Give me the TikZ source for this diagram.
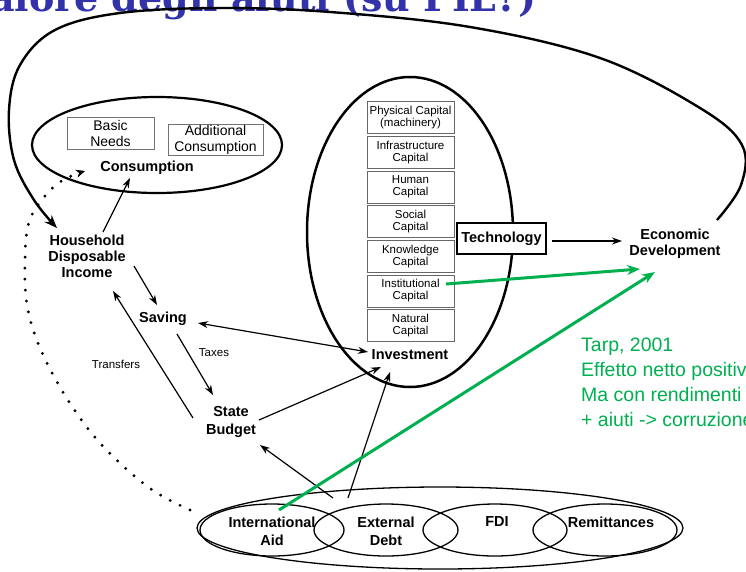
\documentclass[tikz,border=0pt]{standalone}
\usepackage{fontspec}
\setmainfont{Liberation Sans}
\newfontfamily\titlefont{DejaVu Serif}
\usetikzlibrary{arrows.meta,calc,shapes.geometric}
\definecolor{aidgreen}{RGB}{0,176,80}
\definecolor{titleblue}{RGB}{50,50,170}
\begin{document}
\begin{tikzpicture}[x=1pt,y=-1pt,
  lab/.style={font=\bfseries\fontsize{14.5}{16}\selectfont, align=center, inner sep=1pt},
  lab2/.style={font=\bfseries\fontsize{14.5}{18}\selectfont, align=center, inner sep=1pt},
  capbox/.style={draw=black!60, line width=0.8pt, fill=white, minimum width=87pt, minimum height=32pt, inner sep=0pt, align=center, font=\fontsize{11.5}{12}\selectfont},
  conbox/.style={draw=black!55, line width=0.7pt, minimum height=32pt, inner sep=0pt, align=center, font=\fontsize{14}{16}\selectfont},
  arr/.style={line width=1.2pt, -{Stealth[length=10pt,width=7pt]}},
  darr/.style={line width=1.2pt, {Stealth[length=10pt,width=7pt]}-{Stealth[length=10pt,width=7pt]}},
  garr/.style={draw=aidgreen, line width=3pt, -{Stealth[length=13pt,width=10pt]}},
  smalltxt/.style={font=\fontsize{11.5}{12}\selectfont, inner sep=0pt},
  bigell/.style={draw, ellipse, inner sep=0pt},
]
\useasboundingbox (0,0) rectangle (746,571);
\fill[white] (0,0) rectangle (746,571);

% title (cut at the top)
\node[anchor=base east, inner sep=0pt, text=titleblue, font=\titlefont\bfseries\fontsize{38}{38}\selectfont] (title) at (537,11) {Valore degli aiuti (su PIL?)};

% consumption
\node[bigell, line width=2.2pt, minimum width=250pt, minimum height=96pt] (consE) at (157,145) {};
\node[conbox, minimum width=87pt] (basic) at (110.5,133) {Basic\\Needs};
\node[conbox, minimum width=95pt, minimum height=31pt] (addl) at (215.5,139.5) {Additional\\Consumption};
\node[lab] (cons) at (147,168) {Consumption};

% investment
\node[bigell, line width=2.5pt, minimum width=206pt, minimum height=310pt] (invE) at (410,232) {};
\node[capbox] (phys) at (410.5,117.5) {Physical Capital\\(machinery)};
\node[capbox] (infra) at (410.5,152.2) {Infrastructure\\Capital};
\node[capbox] (human) at (410.5,186.9) {Human\\Capital};
\node[capbox] (social) at (410.5,221.6) {Social\\Capital};
\node[capbox] (know) at (410.5,256.3) {Knowledge\\Capital};
\node[capbox] (inst) at (410.5,291) {Institutional\\Capital};
\node[capbox] (nat) at (410.5,325.7) {Natural\\Capital};
\node[lab] (inv) at (410,355) {Investment};
\node[draw, line width=1.8pt, fill=white, minimum width=89pt, minimum height=31pt, inner sep=0pt, font=\bfseries\fontsize{14.5}{16}\selectfont] (tech) at (501.5,238.5) {Technology};
\node[lab] (ed) at (675,244) {Economic\\Development};

% household side
\node[lab] (hdi) at (87,256) {Household\\Disposable\\Income};
\node[lab] (sav) at (163,319) {Saving};
\node[lab2] (state) at (231,422) {State\\Budget};
\node[smalltxt] (taxes) at (214,353) {Taxes};
\node[smalltxt] (transfers) at (116,364) {Transfers};

% external flows
\node[bigell, line width=1.3pt, minimum width=486pt, minimum height=82pt] (allE) at (440,528) {};
\node[bigell, line width=1.3pt, minimum width=144pt, minimum height=52pt] (aidE) at (272,530) {};
\node[bigell, line width=1.3pt, minimum width=144pt, minimum height=52pt] (debtE) at (386,530) {};
\node[bigell, line width=1.3pt, minimum width=144pt, minimum height=52pt] (fdiE) at (495,530) {};
\node[bigell, line width=1.3pt, minimum width=144pt, minimum height=52pt] (remE) at (605,530) {};
\node[lab2] (aid) at (272,531) {International\\Aid};
\node[lab2] (debt) at (386,531) {External\\Debt};
\node[lab] (fdi) at (497,522) {FDI};
\node[lab] (rem) at (611,522) {Remittances};

% green comment
\node[anchor=north west, inner sep=0pt, align=left, text=aidgreen, font=\fontsize{19.5}{25}\selectfont] (tarp) at (581,337.5) {Tarp, 2001\\Effetto netto positivo\\Ma con rendimenti decrescenti\\+ aiuti -> corruzione};

% arrows
\draw[arr] ($(hdi)+(16,-24)$) -- ($(cons)+(-17,10)$);
\draw[arr] ($(hdi)+(47,10)$) -- ($(sav)+(-6,-14)$);
\draw[darr] ($(sav)+(35,4)$) -- ($(inv)+(-42,-3)$);
\draw[arr] ($(sav)+(14,15)$) -- ($(state)+(-18,-27)$);
\draw[arr] ($(state)+(-38,-4)$) -- ($(hdi)+(26,35)$);
\draw[arr] ($(state)+(28,-2)$) -- ($(inv)+(-29,12)$);
\draw[arr] ($(debt)+(-38,-33)$) -- ($(inv)+(-20,17)$);
\draw[arr] ($(aid)+(61,-33)$) -- ($(state)+(29,23)$);
\draw[arr] ($(tech.east)+(5,2.5)$) -- ($(ed)+(-53,-3)$);

% big feedback curve
\coordinate (bcS) at ($(ed)+(42,-24)$);
\coordinate (bcE) at ($(hdi)+(-30,-28)$);
\draw[line width=2.4pt, -{Stealth[length=13pt,width=10pt]}] plot[smooth, tension=0.6] coordinates {(bcS) (741,185) (742,145) (700,108) (600,58) (470,27) (330,12) (220,8) (120,13) (55,30) (20,65) (9,110) (14,160) (34,200) (bcE)};

% dotted curve
\coordinate (dtS) at ($(allE)+(-250,-18)$);
\coordinate (dtE) at ($(cons)+(-62,3)$);
\draw[line width=3.2pt, line cap=round, dash pattern=on 0pt off 11pt, -{Stealth[length=9pt,width=8pt,line width=0.5pt]}] plot[smooth, tension=0.6] coordinates {(dtS) (148,487) (100,443) (66,397) (40,348) (27,305) (25,260) (29,222) (45,196) (63,180) (dtE)};

% green arrows
\draw[garr] ($(inst)+(35.5,-7)$) -- ($(ed)+(-35,25)$);
\draw[garr] ($(aid)+(7,-21)$) -- ($(ed)+(-20,28)$);
\end{tikzpicture}
\end{document}
